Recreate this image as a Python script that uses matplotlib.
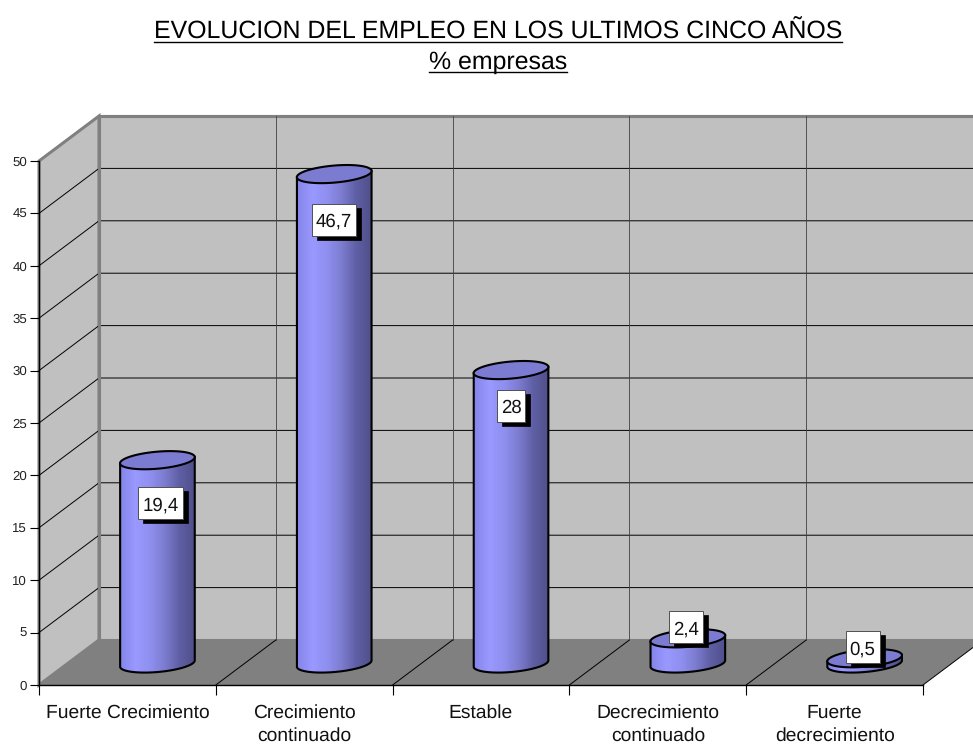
import numpy as np
import matplotlib
matplotlib.use("Agg")
import matplotlib.pyplot as plt
from matplotlib.colors import LinearSegmentedColormap
from matplotlib.lines import Line2D
from matplotlib.patches import Polygon, Rectangle
from matplotlib.transforms import IdentityTransform

plt.rcParams['font.family'] = ['Liberation Sans', 'DejaVu Sans']
plt.rcParams['text.hinting'] = 'no_hinting'

categories = ["Fuerte Crecimiento", "Crecimiento\ncontinuado", "Estable",
              "Decrecimiento\ncontinuado", "Fuerte\ndecrecimiento"]
values = [19.4, 46.7, 28, 2.4, 0.5]
value_labels = ["19,4", "46,7", "28", "2,4", "0,5"]
yticks = [0, 5, 10, 15, 20, 25, 30, 35, 40, 45, 50]
title_lines = ["EVOLUCION DEL EMPLEO EN LOS ULTIMOS CINCO AÑOS", "% empresas"]

W, H = 973, 744
fig = plt.figure(figsize=(W / 100, H / 100), dpi=100, facecolor="white")
ax = fig.add_axes([39 / W, (H - 685) / H, 884 / W, 524 / H])
ax.patch.set_visible(False)

# pixels per data unit, used for the fake 3d depth
ux = 884 / 5
uy = 524 / 50
dx = 60 / ux
dy = 45 / uy
n = len(categories)
wall = "#c0c0c0"
edge = "#808080"

# walls and floor
ax.add_patch(Polygon([(dx, dy), (n + dx, dy), (n + dx, 50 + dy), (dx, 50 + dy)],
                     fc=wall, ec=edge, lw=2.2, clip_on=False, zorder=1))
ax.add_patch(Polygon([(0, 0), (dx, dy), (dx, 50 + dy), (0, 50)],
                     fc=wall, ec=edge, lw=2.2, clip_on=False, zorder=1))
ax.add_patch(Polygon([(0, 0), (n, 0), (n + dx, dy), (dx, dy)],
                     fc=edge, ec="none", clip_on=False, zorder=2))

# gridlines, side wall + back wall
for t in yticks[1:-1]:
    ax.plot([0, dx, n + dx], [t, t + dy, t + dy], color="black", lw=0.7,
            clip_on=False, zorder=3, solid_joinstyle="miter")
ax.plot([dx, n + dx], [50 + dy, 50 + dy], color=edge, lw=2.2, clip_on=False, zorder=3)
for i in range(1, n + 1):
    ax.plot([i, i + dx], [0, dy], color="black", lw=0.7, clip_on=False, zorder=3)
    ax.plot([i + dx, i + dx], [dy, 50 + dy], color="#404040", lw=0.6, clip_on=False, zorder=3)
ax.plot([dx, dx], [dy, 50 + dy], color=edge, lw=2.2, clip_on=False, zorder=3)

# cylinders
shade = LinearSegmentedColormap.from_list(
    "cyl", ["#8585ea", "#9999ff", "#8f8ff0", "#7c7cd0", "#5f5fa5", "#50508c"], N=32)
a = 37.5
b = 8.5
tilt = np.radians(5.0)
th = np.linspace(0, 2 * np.pi, 121)
ex = (a * np.cos(th) * np.cos(tilt) - b * np.sin(th) * np.sin(tilt)) / ux
ey = (a * np.cos(th) * np.sin(tilt) + b * np.sin(th) * np.cos(tilt)) / uy
low = np.sin(th) <= 0.0
base = dy / 2 - 1 / uy
rise = a * np.sin(tilt) / uy
for i, v in enumerate(values):
    cx = i + 0.5 + dx / 2
    half = np.column_stack([cx + ex[low], base + ey[low]])
    half = half[np.argsort(half[:, 0])]
    body = np.vstack([half, [half[-1, 0], base + v + rise], [half[0, 0], base + v - rise]])
    im = ax.imshow(np.linspace(0, 1, 32)[None, :], cmap=shade, aspect="auto", zorder=4,
                   extent=[body[:, 0].min(), body[:, 0].max(), body[:, 1].min(), body[:, 1].max()])
    im.set_clip_path(Polygon(body, closed=True, transform=ax.transData))
    ax.add_patch(Polygon(body, closed=True, fc="none", ec="black", lw=1.5, zorder=5))
    ax.add_patch(Polygon(np.column_stack([cx + ex, base + v + ey]), closed=True,
                         fc="#7b7bd2", ec="black", lw=1.5, zorder=6))

# axes, ticks
ax.set_xlim(0, n)
ax.set_ylim(0, 50)
ax.spines["top"].set_visible(False)
ax.spines["right"].set_visible(False)
for s in ["left", "bottom"]:
    ax.spines[s].set_linewidth(1.0)
    ax.spines[s].set_zorder(6)
ax.set_yticks(yticks)
ax.tick_params(axis="y", length=6.5, width=0.8, pad=2, labelsize=9.5, labelcolor="#222222")
ax.set_xticks(range(n + 1))
ax.set_xticklabels([])
ax.tick_params(axis="x", which="major", length=7, width=0.8)
ax.set_xticks(np.arange(n) + 0.5, minor=True)
ax.set_xticklabels(categories, minor=True, fontsize=13.9, color="#111111", linespacing=1.39)
ax.tick_params(axis="x", which="minor", length=0, pad=14)

# value boxes, offsets in pixels from the top of the cylinder
renderer = fig.canvas.get_renderer()
label_off = [(3, -43), (0, -46), (0, -36), (-2, 11), (-2, 11)]
for i, v in enumerate(values):
    px, py = ax.transData.transform((i + 0.5 + dx / 2, base + v))
    px += label_off[i][0]
    py += label_off[i][1]
    t = ax.text(px, py, value_labels[i], transform=IdentityTransform(), ha="center",
                va="center_baseline", fontsize=13.4, color="#111111", zorder=9)
    w = t.get_window_extent(renderer).width + 8
    h = 32
    ax.add_patch(Rectangle((px - w / 2 + 5, py - h / 2 - 4), w, h, transform=IdentityTransform(),
                           fc="black", ec="black", lw=0.5, clip_on=False, zorder=7))
    ax.add_patch(Rectangle((px - w / 2, py - h / 2), w, h, transform=IdentityTransform(),
                           fc="white", ec="#505050", lw=0.7, clip_on=False, zorder=8))

# title with underline
ypix = [32, 62]
for line, yp in zip(title_lines, ypix):
    t = fig.text(498 / W, 1 - yp / H, line, ha="center", va="center", fontsize=17.9, color="black")
    bb = t.get_window_extent(renderer)
    fig.add_artist(Line2D([bb.x0 / W, bb.x1 / W], [1 - (yp + 10) / H] * 2, color="black", lw=1.0))

fig.savefig("out.png", dpi=100, facecolor="white")
